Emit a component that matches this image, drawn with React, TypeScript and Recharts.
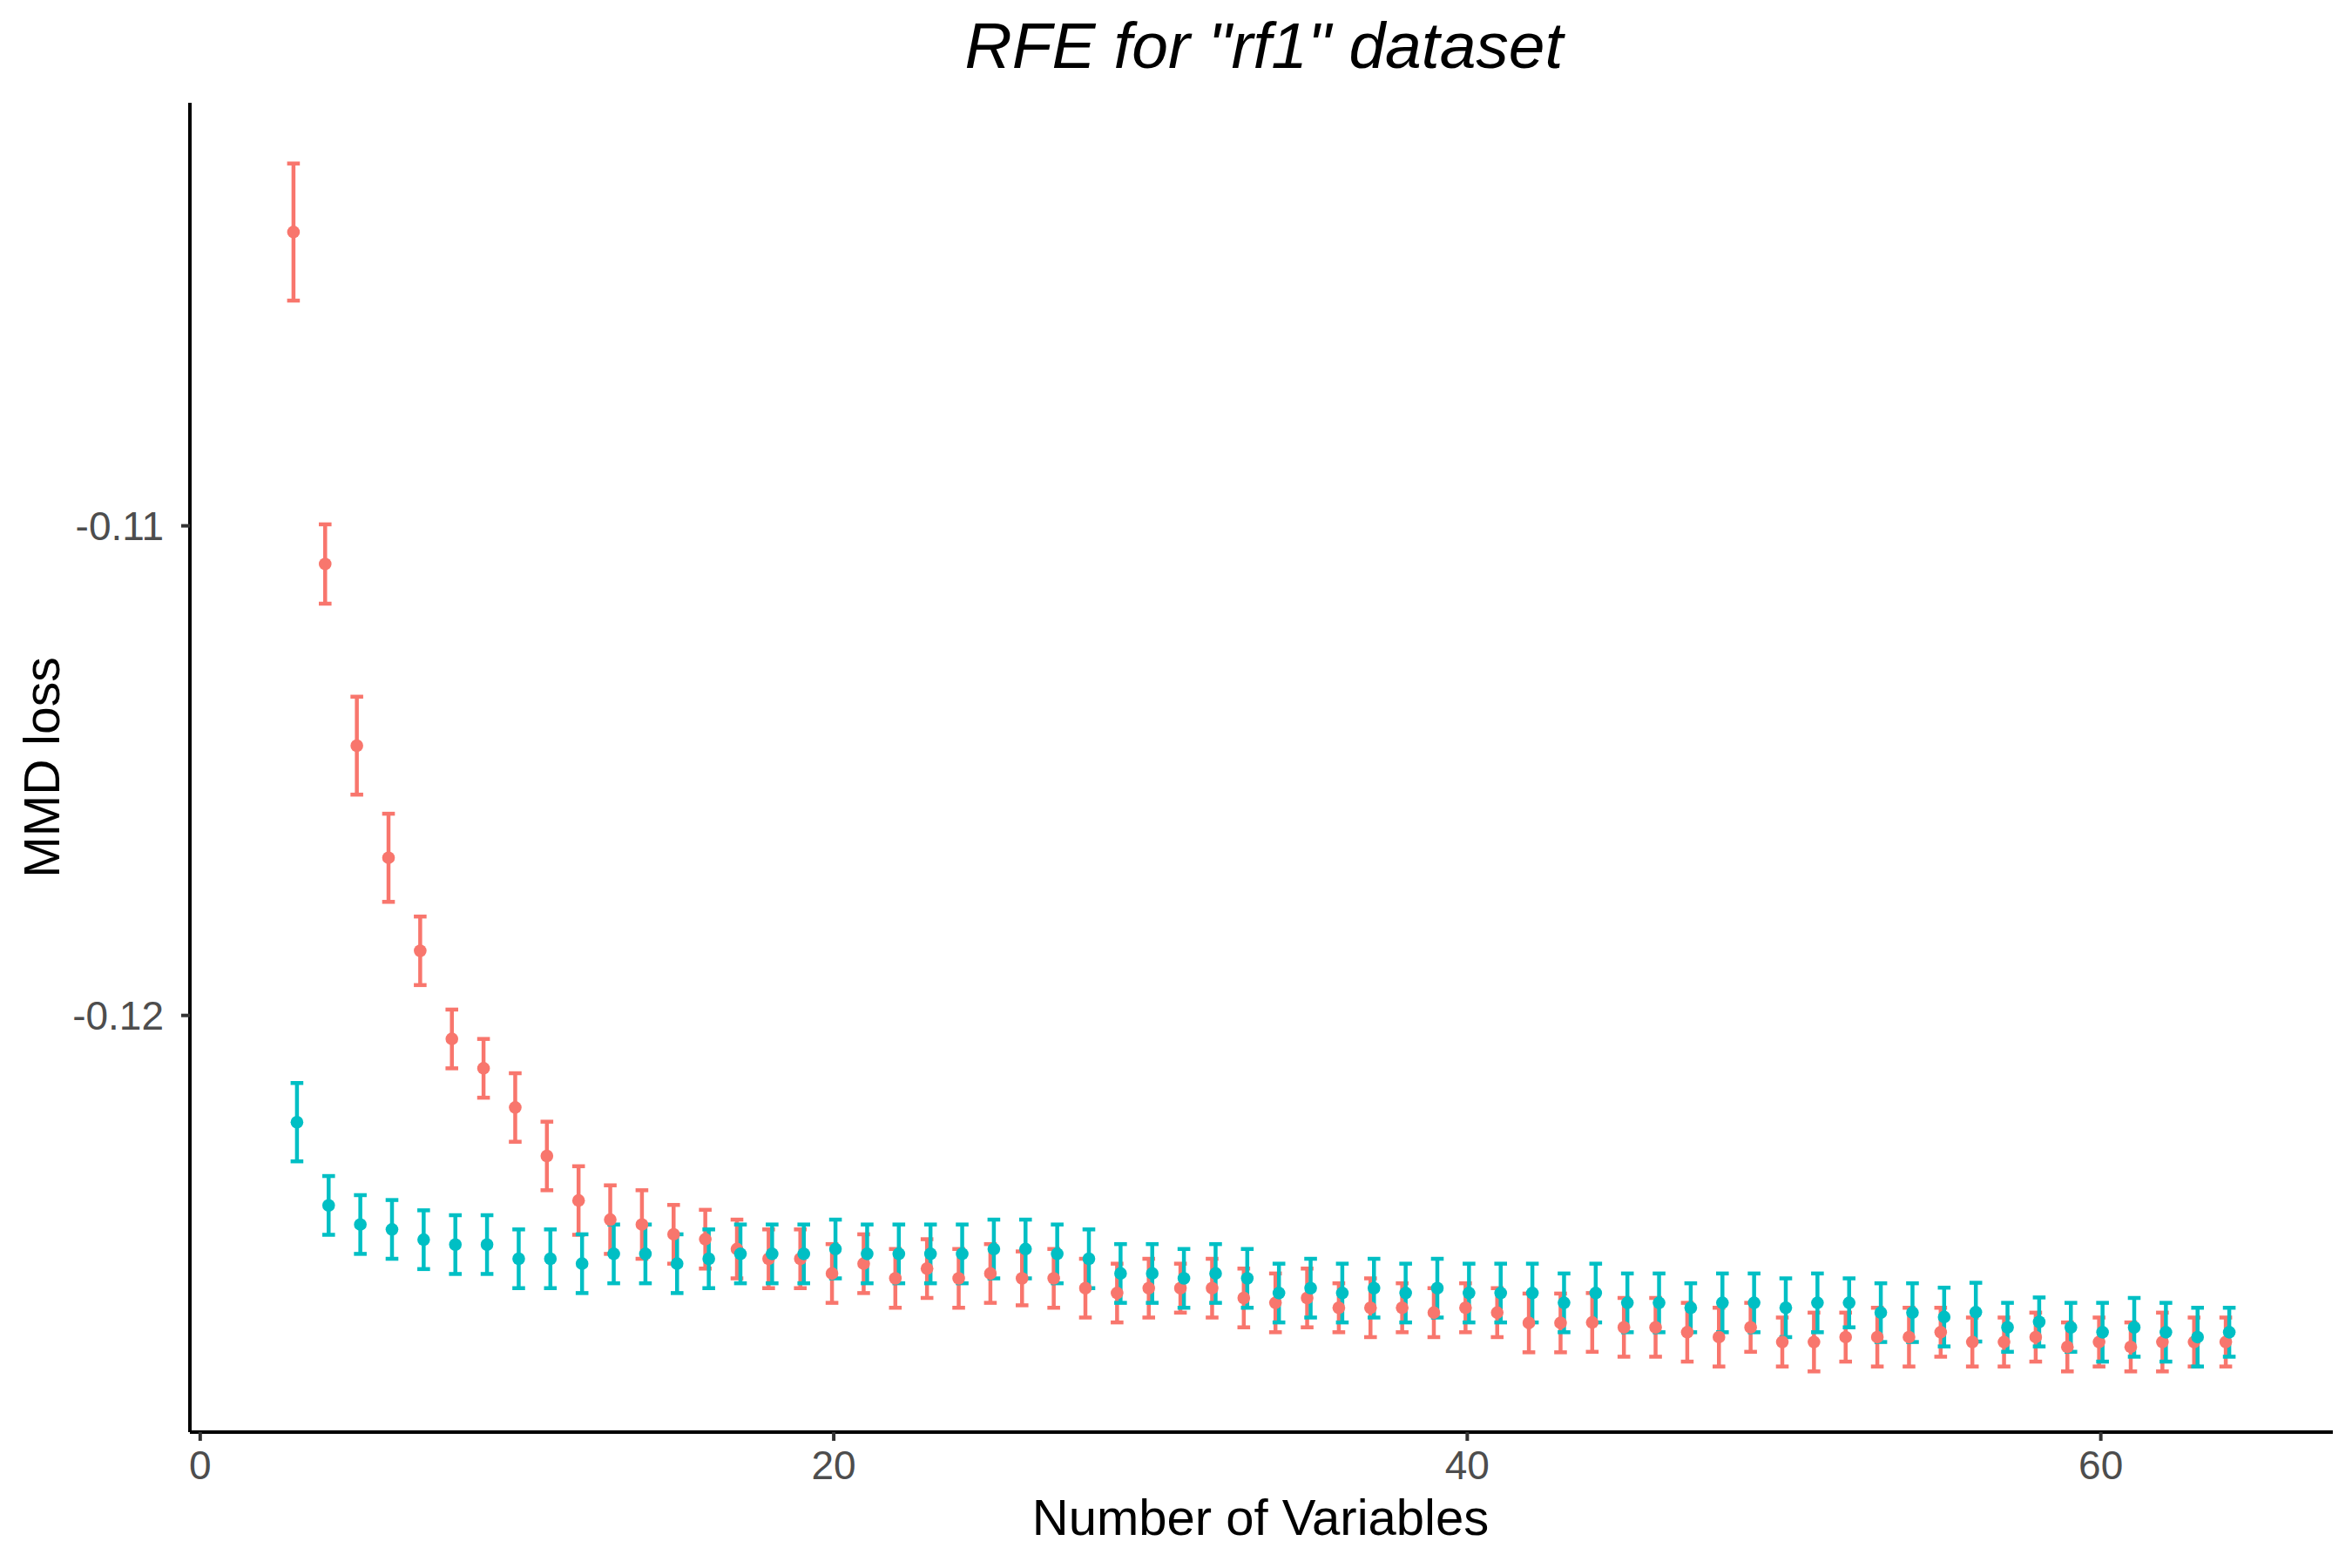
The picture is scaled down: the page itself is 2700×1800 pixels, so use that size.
import React from 'react';
import { ComposedChart, Scatter, XAxis, YAxis, ErrorBar } from 'recharts';

const RED = '#F8766D';
const TEAL = '#00BFC4';

const numVars = [3, 4, 5, 6, 7, 8, 9, 10, 11, 12, 13, 14, 15, 16, 17, 18, 19, 20, 21, 22, 23, 24, 25, 26, 27, 28, 29, 30, 31, 32, 33, 34, 35, 36, 37, 38, 39, 40, 41, 42, 43, 44, 45, 46, 47, 48, 49, 50, 51, 52, 53, 54, 55, 56, 57, 58, 59, 60, 61, 62, 63, 64];

const redMean = [
  -0.10400, -0.11078, -0.11449, -0.11678, -0.11868, -0.12048, -0.12108, -0.12188, -0.12287, -0.12378,
  -0.12417, -0.12427, -0.12447, -0.12457, -0.12477, -0.12497, -0.12497, -0.12527, -0.12507, -0.12537,
  -0.12517, -0.12537, -0.12527, -0.12537, -0.12537, -0.12557, -0.12567, -0.12557, -0.12557, -0.12557,
  -0.12577, -0.12587, -0.12577, -0.12597, -0.12597, -0.12597, -0.12607, -0.12597, -0.12607, -0.12628,
  -0.12628, -0.12627, -0.12637, -0.12637, -0.12647, -0.12657, -0.12637, -0.12667, -0.12667, -0.12657,
  -0.12657, -0.12657, -0.12647, -0.12667, -0.12667, -0.12657, -0.12677, -0.12667, -0.12677, -0.12667,
  -0.12667, -0.12667,
];

const redSd = [
  0.00140, 0.00081, 0.00100, 0.00090, 0.00070, 0.00060, 0.00060, 0.00070, 0.00070, 0.00070,
  0.00070, 0.00070, 0.00060, 0.00060, 0.00060, 0.00060, 0.00060, 0.00060, 0.00060, 0.00060,
  0.00060, 0.00060, 0.00060, 0.00055, 0.00060, 0.00060, 0.00060, 0.00060, 0.00050, 0.00060,
  0.00060, 0.00060, 0.00060, 0.00050, 0.00060, 0.00050, 0.00050, 0.00050, 0.00050, 0.00060,
  0.00060, 0.00060, 0.00060, 0.00060, 0.00060, 0.00060, 0.00050, 0.00050, 0.00060, 0.00050,
  0.00060, 0.00060, 0.00050, 0.00050, 0.00050, 0.00050, 0.00050, 0.00050, 0.00050, 0.00060,
  0.00050, 0.00050,
];

const tealMean = [
  -0.12218, -0.12388, -0.12427, -0.12437, -0.12458, -0.12468, -0.12468, -0.12497, -0.12497, -0.12507,
  -0.12487, -0.12487, -0.12507, -0.12497, -0.12487, -0.12487, -0.12487, -0.12477, -0.12487, -0.12487,
  -0.12487, -0.12487, -0.12477, -0.12477, -0.12487, -0.12497, -0.12527, -0.12527, -0.12537, -0.12527,
  -0.12537, -0.12567, -0.12557, -0.12567, -0.12557, -0.12567, -0.12557, -0.12567, -0.12567, -0.12567,
  -0.12587, -0.12567, -0.12587, -0.12587, -0.12597, -0.12587, -0.12587, -0.12597, -0.12587, -0.12587,
  -0.12607, -0.12607, -0.12616, -0.12606, -0.12637, -0.12626, -0.12637, -0.12647, -0.12637, -0.12647,
  -0.12657, -0.12647,
];

const tealSd = [
  0.00080, 0.00060, 0.00060, 0.00060, 0.00060, 0.00060, 0.00060, 0.00060, 0.00060, 0.00060,
  0.00060, 0.00060, 0.00060, 0.00060, 0.00060, 0.00060, 0.00060, 0.00060, 0.00060, 0.00060,
  0.00060, 0.00060, 0.00060, 0.00060, 0.00060, 0.00060, 0.00060, 0.00060, 0.00060, 0.00060,
  0.00060, 0.00060, 0.00060, 0.00060, 0.00060, 0.00060, 0.00060, 0.00060, 0.00060, 0.00060,
  0.00060, 0.00060, 0.00060, 0.00060, 0.00050, 0.00060, 0.00060, 0.00060, 0.00060, 0.00050,
  0.00060, 0.00060, 0.00060, 0.00060, 0.00050, 0.00050, 0.00050, 0.00060, 0.00060, 0.00060,
  0.00060, 0.00050,
];

const xTicks = [0, 20, 40, 60];
const yTicks = [-0.12, -0.11];

// position_dodge offset between the two groups
const DODGE = 0.055;

const redData = numVars.map((n, i) => ({ x: n - DODGE, y: redMean[i], err: redSd[i] }));
const tealData = numVars.map((n, i) => ({ x: n + DODGE, y: tealMean[i], err: tealSd[i] }));

const FONT = '"Liberation Sans", Arial, Helvetica, sans-serif';

const noShape = () => <g />;
const dot = (color: string) => (p: any) => <circle cx={p.cx} cy={p.cy} r={7.3} fill={color} />;

export default function App() {
  return (
    <div style={{ position: 'absolute', left: 0, top: 0, width: 2700, height: 1800, background: '#fff' }}>
      <ComposedChart
        width={2700}
        height={1800}
        margin={{ top: 118, right: 22, bottom: 0, left: 0 }}
      >
        <XAxis
          type="number"
          dataKey="x"
          domain={[-0.325, 67.325]}
          allowDataOverflow
          ticks={xTicks}
          height={156}
          axisLine={{ stroke: '#000', strokeWidth: 4 }}
          tickLine={{ stroke: '#333333', strokeWidth: 4 }}
          tickSize={10}
          tickMargin={11}
          tick={{ fontSize: 46, fill: '#4D4D4D', fontFamily: FONT }}
        />
        <YAxis
          type="number"
          dataKey="y"
          domain={[-0.12851, -0.10136]}
          allowDataOverflow
          ticks={yTicks}
          width={218}
          axisLine={{ stroke: '#000', strokeWidth: 4 }}
          tickLine={{ stroke: '#333333', strokeWidth: 4 }}
          tickSize={10}
          tickMargin={20}
          tick={{ fontSize: 46, fill: '#4D4D4D', fontFamily: FONT }}
          tickFormatter={(v: number) => v.toFixed(2)}
        />
        <Scatter data={redData} dataKey="y" fill={RED} shape={noShape} isAnimationActive={false}>
          <ErrorBar dataKey="err" direction="y" width={7.3} stroke={RED} strokeWidth={4.5} isAnimationActive={false} />
        </Scatter>
        <Scatter data={tealData} dataKey="y" fill={TEAL} shape={noShape} isAnimationActive={false}>
          <ErrorBar dataKey="err" direction="y" width={7.3} stroke={TEAL} strokeWidth={4.5} isAnimationActive={false} />
        </Scatter>
        <Scatter data={redData} dataKey="y" fill={RED} shape={dot(RED)} isAnimationActive={false} />
        <Scatter data={tealData} dataKey="y" fill={TEAL} shape={dot(TEAL)} isAnimationActive={false} />
      </ComposedChart>
      <svg
        width={2700}
        height={1800}
        style={{ position: 'absolute', left: 0, top: 0, pointerEvents: 'none' }}
      >
        <text x={1451} y={78} textAnchor="middle" fontSize={75} fontStyle="italic" fontFamily={FONT} fill="#000">
          RFE for "rf1" dataset
        </text>
        <text x={1447} y={1762} textAnchor="middle" fontSize={58} fontFamily={FONT} fill="#000">
          Number of Variables
        </text>
        <text x={68} y={881} textAnchor="middle" fontSize={57} fontFamily={FONT} fill="#000" transform="rotate(-90 68 881)">
          MMD loss
        </text>
      </svg>
    </div>
  );
}
